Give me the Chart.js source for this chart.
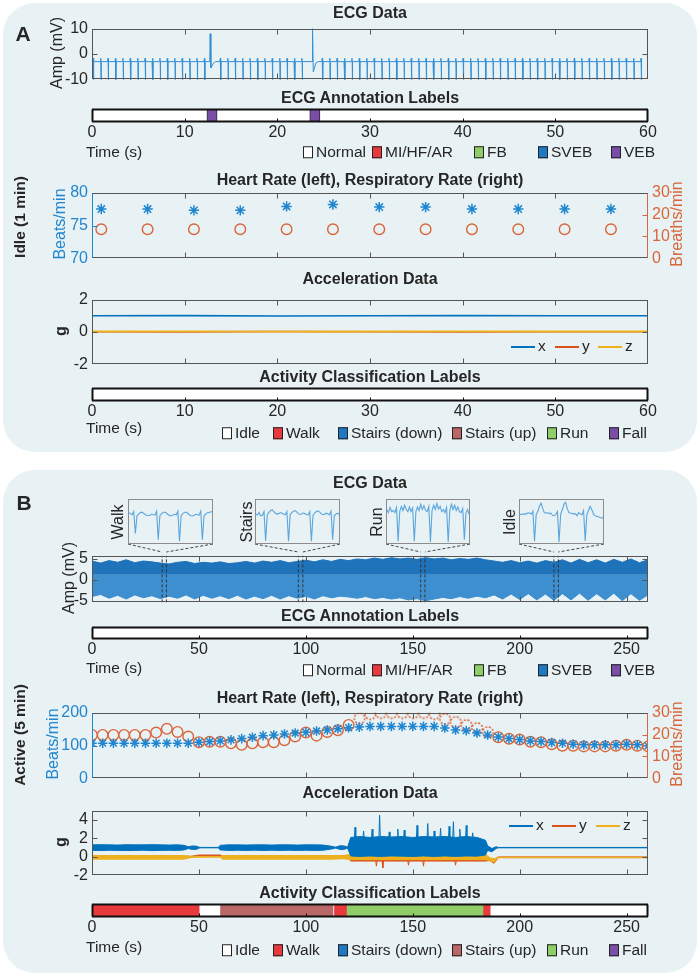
<!DOCTYPE html>
<html>
<head>
<meta charset="utf-8">
<script src="https://cdn.jsdelivr.net/npm/chart.js@4.4.1/dist/chart.umd.min.js"></script>
<style>
  html, body { margin: 0; padding: 0; background: #fff; }
  #fig { position: relative; width: 700px; height: 977px; overflow: hidden;
         font-family: "Liberation Sans", Arial, sans-serif; color: #262626; }
  .panel { position: absolute; background: #e8f1f4; border-radius: 32px; }
  .t { position: absolute; white-space: nowrap; line-height: 1; transform: translate(-50%, -50%); }
  .lg { position: absolute; white-space: nowrap; font-size: 15.5px; line-height: 1; transform: translateY(-50%); }
  .sw { display: inline-block; width: 8px; height: 10px; border: 1.5px solid #222; vertical-align: -1px; margin-right: 3px; }
  canvas, svg { position: absolute; }
</style>
</head>
<body>
<div id="fig">
  <div class="panel" style="left:3px;top:3px;width:694px;height:449px"></div>
  <div class="panel" style="left:3px;top:470px;width:694px;height:503px"></div>
</div>
<script>
// ---------- data ----------

// A: idle minute
const timeTicksA = [0, 10, 20, 30, 40, 50, 60];
const ecgABeats = [0.18, 0.98, 1.78, 2.58, 3.38, 4.18, 4.98, 5.78, 6.58, 7.38, 8.18, 8.98, 9.78, 10.58, 11.38, 12.18,
  13.9, 14.7, 15.5, 16.3, 17.1, 17.9, 18.7, 19.5, 20.3, 21.1, 21.9, 22.7,
  24.9, 25.7, 26.5, 27.3, 28.1, 28.9, 29.7, 30.5, 31.3, 32.1, 32.9, 33.7, 34.5, 35.3, 36.1, 36.9, 37.7, 38.5,
  39.3, 40.1, 40.9, 41.7, 42.5, 43.3, 44.1, 44.9, 45.7, 46.5, 47.3, 48.1, 48.9, 49.7, 50.5, 51.3, 52.1, 52.9,
  53.7, 54.5, 55.3, 56.1, 56.9, 57.7, 58.5, 59.3];
const beatShape = [[-0.1, -3], [-0.05, -1.7], [-0.02, -3], [0, -12], [0.03, -3]];
const ecgAVebTimes = [12.75, 23.8];
const ecgAVebPeak = [8, 10];
const ecgAVebTrough = [-5.5, -7];
const ecgAYTicks = [-10, 0, 10];
const annotA = [['VEB', 12.4, 13.5], ['VEB', 23.5, 24.6]];
const hrTimesA = [1, 6, 11, 16, 21, 26, 31, 36, 41, 46, 51, 56];
const hrA = [77.5, 77.5, 77.3, 77.3, 77.9, 78.2, 77.8, 77.8, 77.5, 77.5, 77.5, 77.5];
const rrA = [13.3, 13.3, 13.3, 13.3, 13.3, 13.3, 13.3, 13.3, 13.3, 13.3, 13.3, 13.3];
const hrAYTicks = [70, 75, 80];
const rrYTicks = [0, 10, 20, 30];
const accATimes = [0, 10, 20, 30, 40, 50, 60];
const accAX = [1.0, 1.01, 0.99, 1.0, 1.01, 1.0, 1.0];
const accAY = [0.02, 0.01, 0.03, 0.02, 0.01, 0.02, 0.02];
const accAZ = [0.03, 0.04, 0.02, 0.03, 0.04, 0.03, 0.03];
const accAYTicks = [-2, 0, 2];
const activityA = [];

// B: active five minutes
const timeTicksB = [0, 50, 100, 150, 200, 250];
// [time, lower edge, upper edge] of the dense ECG trace
const ecgBBand = [[0, -4.0, 4.5], [4, -3.5, 4.0], [8, -4.4, 4.6], [12, -3.7, 4.2], [16, -4.6, 4.8], [20, -3.6, 4.1],
  [24, -4.3, 4.5], [28, -3.8, 4.3], [32, -4.5, 4.0], [36, -3.9, 3.8], [40, -4.4, 4.2], [44, -3.6, 4.4],
  [48, -4.6, 3.9], [52, -3.7, 4.2], [56, -4.4, 4.0], [60, -3.8, 4.3], [64, -4.5, 3.9], [68, -3.7, 4.1],
  [72, -4.6, 4.4], [76, -3.9, 4.0], [80, -4.5, 4.5], [84, -3.7, 4.2], [88, -4.6, 4.6], [92, -3.8, 4.1],
  [96, -4.4, 4.4], [100, -3.9, 4.7], [104, -4.6, 4.3], [108, -3.8, 4.8], [112, -4.3, 4.4], [116, -3.9, 4.9],
  [120, -4.1, 4.6], [124, -4.4, 5.0], [128, -4.0, 4.8], [132, -4.5, 5.2], [136, -4.2, 4.9], [140, -4.6, 5.3],
  [144, -4.3, 5.0], [148, -4.8, 5.2], [152, -4.5, 4.9], [156, -5.0, 5.3], [160, -4.6, 5.0], [164, -4.2, 5.2],
  [168, -4.5, 4.8], [172, -4.0, 5.1], [176, -4.4, 4.9], [180, -3.9, 5.2], [184, -4.3, 4.8], [188, -3.6, 4.5],
  [192, -4.6, 4.2], [196, -3.4, 4.6], [200, -4.7, 4.1], [204, -3.3, 4.5], [208, -4.8, 4.0], [212, -3.4, 4.6],
  [216, -4.9, 4.2], [220, -3.3, 4.8], [224, -4.8, 4.0], [228, -3.2, 4.9], [232, -4.9, 4.1], [236, -3.3, 4.8],
  [240, -4.8, 4.0], [244, -3.2, 4.9], [248, -5.0, 4.2], [252, -3.3, 5.0], [256, -4.9, 4.1], [260, -3.6, 4.8]];
const ecgBYTicks = [-5, 0, 5];
const insetNames = ['Walk', 'Stairs', 'Run', 'Idle'];
const insetWindows = [[32.8, 34.8], [96.5, 98.6], [153.7, 155.7], [216, 218.1]];
const insetWalk = [0.45, 0.4, 0.35, 0.5, -0.55, 0.3, 0.38, 0.45, 0.47, 0.42, 0.36, 0.32, 0.3, 0.32, 0.38, 0.35, 0.33,
  0.52, -0.85, 0.3, 0.4, 0.46, 0.48, 0.43, 0.36, 0.3, 0.3, 0.33, 0.38, 0.34, 0.52, -0.92, 0.3, 0.4, 0.46, 0.48,
  0.42, 0.35, 0.3, 0.29, 0.32, 0.37, 0.35, 0.33, 0.52, -0.85, 0.3, 0.38, 0.44, 0.45, 0.48, 0.5];
const insetStairs = [0.38, 0.33, 0.45, 0.3, 0.32, 0.5, -0.9, 0.35, 0.45, 0.55, 0.58, 0.5, 0.42, 0.38, 0.4, 0.45, 0.42,
  0.38, 0.35, 0.5, -0.92, 0.35, 0.45, 0.52, 0.55, 0.48, 0.4, 0.36, 0.38, 0.44, 0.4, 0.36, 0.34, 0.5, -0.92, 0.33,
  0.43, 0.5, 0.53, 0.47, 0.4, 0.35, 0.37, 0.42, 0.38, 0.35, 0.52, -0.85, 0.3, 0.38, 0.42, 0.35];
const insetRun = [0.6, 0.45, 0.7, 0.5, 0.55, 0.45, 0.7, -0.92, 0.5, 0.75, 0.55, 0.8, 0.6, 0.5, 0.72, 0.5, 0.68, -0.92,
  0.5, 0.72, 0.55, 0.85, 0.6, 0.78, 0.55, 0.5, 0.75, -0.95, 0.55, 0.8, 0.6, 0.88, 0.62, 0.75, 0.5, 0.6, 0.45, 0.7,
  -0.95, 0.55, 0.85, 0.6, 0.8, 0.55, 0.72, 0.5, 0.45, 0.65, -0.85, 0.45, 0.6, 0.35];
const insetIdle = [0.35, 0.38, 0.36, 0.4, 0.38, 0.45, 0.42, 0.38, 0.52, -0.92, 0.35, 0.5, 0.75, 0.9, 0.65, 0.45, 0.42,
  0.45, 0.4, 0.42, 0.32, 0.3, 0.35, 0.5, -0.95, 0.38, 0.6, 0.85, 0.95, 0.65, 0.45, 0.42, 0.42, 0.38, 0.4, 0.3, 0.45,
  0.38, 0.35, 0.55, -0.9, 0.35, 0.55, 0.75, 0.6, 0.4, 0.3, 0.28, 0.25, 0.22, 0.2, 0.2];
const annotB = [];
const hrTimesB = [0, 5, 10, 15, 20, 25, 30, 35, 40, 45, 50, 55, 60, 65, 70, 75, 80, 85, 90, 95, 100, 105, 110, 115,
  120, 125, 130, 135, 140, 145, 150, 155, 160, 165, 170, 175, 180, 185, 190, 195, 200, 205, 210, 215, 220, 225,
  230, 235, 240, 245, 250, 255, 260];
const hrB = [107, 107, 107, 107, 107, 107, 107, 107, 107, 107, 110, 112, 114, 117, 121, 125, 130, 132, 135, 138,
  140, 144, 147, 151, 154, 156, 158, 158, 158, 158, 158, 158, 158, 153, 147, 145, 138, 132, 126, 121,
  118, 114, 112, 109, 107, 104, 102, 102, 102, 102, 104, 102, 99];
const rrB = [19.8, 19.8, 19.8, 19.8, 19.8, 19.8, 20.9, 22.6, 21.2, 19.1, 16.5, 16.7, 16.7, 16.0, 15.3, 16.0, 16.5,
  16.5, 17.4, 19.1, 20.9, 19.5, 21.2, 22.0, 24.4, 27.5, 29.5, 30, 30, 30, 30, 30, 29.5, 27.2, 25.8, 24.4, 23.0,
  21.2, 18.8, 18.1, 17.7, 16.7, 16.5, 15.6, 14.9, 14.9, 14.6, 14.6, 14.6, 14.9, 15.3, 14.9, 14.6];
const rrBUncertain = [125, 185];
const hrBYTicks = [0, 100, 200];
// [time, lower, upper] bands of the accelerometer axes
const accXBand = [[0, 0.7, 1.3], [4, 0.68, 1.32], [8, 0.72, 1.3], [12, 0.7, 1.28], [16, 0.68, 1.32], [20, 0.7, 1.3],
  [24, 0.72, 1.3], [28, 0.68, 1.32], [32, 0.7, 1.3], [36, 0.72, 1.28], [40, 0.7, 1.3], [43, 0.75, 1.25],
  [45, 0.9, 1.1], [47, 0.8, 1.18], [49, 0.82, 1.15], [50, 0.95, 1.05], [51, 0.98, 1.02], [59, 0.98, 1.02],
  [60, 0.75, 1.25], [64, 0.7, 1.3], [68, 0.72, 1.3], [72, 0.7, 1.28], [76, 0.72, 1.3], [80, 0.7, 1.3],
  [84, 0.72, 1.28], [88, 0.7, 1.3], [92, 0.72, 1.3], [96, 0.7, 1.28], [100, 0.72, 1.3], [104, 0.7, 1.3],
  [108, 0.72, 1.28], [112, 0.85, 1.15], [114, 0.95, 1.05], [116, 0.8, 1.2], [118, 0.82, 1.18], [119.5, 0.95, 1.05],
  [121, 0.1, 2.1], [125, 0.05, 2.2], [130, 0.1, 2.1], [135, 0.05, 2.2], [140, 0.1, 2.15], [145, 0.08, 2.2],
  [150, 0.05, 2.1], [155, 0.1, 2.2], [160, 0.05, 2.15], [165, 0.1, 2.2], [170, 0.05, 2.1], [175, 0.1, 2.2],
  [180, 0.08, 2.1], [184, 0.2, 1.8], [185, 0.7, 1.2], [187, 0.55, 0.9], [189, 0.9, 1.1], [190, 0.98, 1.02],
  [260, 0.98, 1.02]];
const accXSpikes = [[123, 3.2], [127, 2.8], [131, 3.0], [134.5, 4.5], [139, 2.7], [143, 3.0], [146, 2.9], [152, 3.4],
  [157, 3.6], [160, 2.8], [163, 3.1], [167, 3.3], [169, 3.8], [172, 3.0], [175, 3.4], [178, 2.6]];
const accYBand = [[0, -0.15, 0.1], [43, -0.15, 0.1], [46, -0.05, 0.05], [50, 0.12, 0.2], [60, 0.12, 0.2],
  [61, -0.15, 0.1], [112, -0.15, 0.1], [120, -0.15, 0.15], [121, -0.45, 0.25], [184, -0.45, 0.25], [186, -0.4, -0.15],
  [188, -0.7, -0.3], [190, -0.08, 0.0], [260, -0.08, 0.0]];
const accYSpikes = [[133, -1.0], [136, -1.2], [148, -0.9], [155, -1.0], [170, -0.9]];
const accZBand = [[0, -0.25, 0.15], [43, -0.25, 0.15], [46, -0.08, 0.08], [50, -0.04, 0.04], [60, -0.04, 0.04],
  [61, -0.25, 0.15], [112, -0.25, 0.15], [118, -0.2, 0.15], [121, -0.3, 0.3], [184, -0.3, 0.3], [186, -0.4, -0.1],
  [188, -0.6, -0.2], [190, -0.08, -0.03], [260, -0.08, -0.03]];
const accBYTicks = [-2, 0, 2, 4];
const activityB = [['Walk', 0, 50.1], ['Stairs (up)', 60.1, 112.7], ['Walk', 113.4, 119.2], ['Run', 119.3, 183.1], ['Walk', 183.1, 186.2]];

const ecgClasses = ['Normal', 'MI/HF/AR', 'FB', 'SVEB', 'VEB'];
const activityClasses = ['Idle', 'Walk', 'Stairs (down)', 'Stairs (up)', 'Run', 'Fall'];

// ---------- style / layout ----------
const FONT = '"Liberation Sans", Arial, sans-serif';
const TXT = '#262626';
const COL = { ecg: '#3590d4', x: '#0072BD', y: '#D95319', z: '#EDB120', hr: '#1f86cf', rr: '#d9663a', inset: '#5aa6de' };
const classColors = { 'Normal': '#ffffff', 'MI/HF/AR': '#e8393d', 'FB': '#8fcd68', 'SVEB': '#1f78c4', 'VEB': '#7a4ea6',
  'Idle': '#ffffff', 'Walk': '#e8393d', 'Stairs (down)': '#1f78c4', 'Stairs (up)': '#b96767', 'Run': '#8fcd68', 'Fall': '#7a4ea6' };
const PL = 92, PR = 648, ML = 58, MR = 36, MT = 10;
const fig = document.getElementById('fig');

// MATLAB-like box with inward tick marks
const matAxes = {
  id: 'matAxes',
  afterDatasetsDraw(chart, args, o) {
    const a = chart.chartArea, ctx = chart.ctx;
    const L = Math.round(a.left) + 0.5, R = Math.round(a.right) - 0.5;
    const T = Math.round(a.top) + 0.5, B = Math.round(a.bottom) - 0.5;
    const tl = o.tick || 5, col = o.color || '#555';
    ctx.save();
    const line = (x1, y1, x2, y2, c, w) => {
      ctx.strokeStyle = c; ctx.lineWidth = w || 1;
      ctx.beginPath(); ctx.moveTo(x1, y1); ctx.lineTo(x2, y2); ctx.stroke();
    };
    const xs = chart.scales.x;
    if (o.xTicks) xs.ticks.forEach((t, i) => {
      const p = Math.round(xs.getPixelForTick(i)) + 0.5;
      if (p <= L + 1 || p >= R - 1) return;
      line(p, B, p, B - tl, col);
      if (o.xTicks === 'both') line(p, T, p, T + tl, col);
    });
    const yMarks = (s, x, dir, c) => s.ticks.forEach((t, i) => {
      const p = Math.round(s.getPixelForTick(i)) + 0.5;
      if (p <= T + 1 || p >= B - 1) return;
      line(x, p, x + dir * tl, p, c);
    });
    if (o.yTicks === 'both') { yMarks(chart.scales.y, L, 1, col); yMarks(chart.scales.y, R, -1, col); }
    if (o.yTicks === 'split') { yMarks(chart.scales.y, L, 1, o.leftColor); yMarks(chart.scales.y1, R, -1, o.rightColor); }
    const w = o.width || 1;
    line(L - 0.5, T, R + 0.5, T, col, w); line(L - 0.5, B, R + 0.5, B, col, w);
    line(L, T, L, B, o.leftColor || col, w); line(R, T, R, B, o.rightColor || col, w);
    ctx.restore();
  }
};

function makeCanvas(left, top, w, h) {
  const c = document.createElement('canvas');
  c.width = w; c.height = h;
  c.style.left = left + 'px'; c.style.top = top + 'px';
  c.style.width = w + 'px'; c.style.height = h + 'px';
  fig.appendChild(c);
  return c;
}

function xAxis(max, ticks, mb, show) {
  return {
    type: 'linear', min: 0, max,
    afterBuildTicks: s => { s.ticks = ticks.map(v => ({ value: v })); },
    afterFit: s => { s.height = mb; },
    grid: { display: false, drawTicks: false }, border: { display: false },
    ticks: { display: show, autoSkip: false, maxRotation: 0, padding: 1, color: TXT, font: { family: FONT, size: 16 } }
  };
}

function yAxis(min, max, ticks, color, position, width) {
  return {
    type: 'linear', position, min, max,
    afterBuildTicks: s => { s.ticks = ticks.map(v => ({ value: v })); },
    afterFit: s => { s.width = width; },
    grid: { display: false, drawTicks: false }, border: { display: false },
    ticks: { autoSkip: false, padding: 4, color, font: { family: FONT, size: 16 } }
  };
}

// a line/scatter plot whose plot area spans PL..PR horizontally and top..bottom vertically
function linePlot(top, bottom, datasets, scales, axOpts) {
  const mb = 12;
  const cv = makeCanvas(PL - ML, top - MT, PR - PL + ML + MR, bottom - top + MT + mb);
  scales.x.afterFit = s => { s.height = mb; };
  return new Chart(cv, {
    type: 'line',
    data: { datasets },
    options: {
      responsive: false, animation: false, devicePixelRatio: 1, events: [],
      layout: { padding: { top: MT, bottom: 0, left: 0, right: scales.y1 ? 0 : MR } },
      scales,
      elements: { line: { tension: 0 }, point: { radius: 0 } },
      plugins: { legend: { display: false }, tooltip: { enabled: false }, matAxes: axOpts,
                 filler: { drawTime: 'beforeDatasetDraw', propagate: false } }
    },
    plugins: [matAxes]
  });
}

// class label strip drawn as floating horizontal bars
function labelBar(top, bottom, segs, max, ticks, defaultClass) {
  const mb = 22;
  const cv = makeCanvas(PL - ML, top - 4, PR - PL + ML + MR, bottom - top + 4 + mb);
  const datasets = [{ data: [[0, max]], backgroundColor: classColors[defaultClass], borderWidth: 0 }]
    .concat(segs.map(s => ({
      data: [[s[1], s[2]]], backgroundColor: classColors[s[0]],
      borderColor: '#2a2a2a', borderWidth: s[0] === 'VEB' ? 1 : 0
    })));
  return new Chart(cv, {
    type: 'bar',
    data: { labels: [''], datasets: datasets.reverse() },
    options: {
      indexAxis: 'y', responsive: false, animation: false, devicePixelRatio: 1, events: [],
      layout: { padding: { top: 4, bottom: 0, left: ML, right: MR } },
      datasets: { bar: { grouped: false, barPercentage: 1, categoryPercentage: 1, borderSkipped: false } },
      scales: { x: xAxis(max, ticks, mb, true), y: { type: 'category', display: false } },
      plugins: { legend: { display: false }, tooltip: { enabled: false },
                 matAxes: { xTicks: 'bottom', tick: 3, color: '#111', width: 2 } }
    },
    plugins: [matAxes]
  });
}

function txt(s, x, y, o) {
  o = o || {};
  const d = document.createElement('div');
  d.className = 't'; d.textContent = s;
  d.style.left = x + 'px'; d.style.top = y + 'px';
  d.style.fontSize = (o.size || 16) + 'px';
  if (o.bold) d.style.fontWeight = 'bold';
  if (o.color) d.style.color = o.color;
  if (o.rot) d.style.transform = 'translate(-50%,-50%) rotate(-90deg)';
  fig.appendChild(d);
}

function legend(names, xs, y) {
  names.forEach((n, i) => {
    const d = document.createElement('div');
    d.className = 'lg';
    d.style.left = xs[i] + 'px'; d.style.top = y + 'px';
    d.innerHTML = '<span class="sw" style="background:' + classColors[n] + '"></span>' + n;
    fig.appendChild(d);
  });
}

function accLegend(xs, y) {
  ['x', 'y', 'z'].forEach((k, i) => {
    const l = document.createElement('div');
    l.style.cssText = 'position:absolute;height:2px;width:24px;left:' + xs[i] + 'px;top:' + (y - 1) + 'px;background:' + COL[k];
    fig.appendChild(l);
    const d = document.createElement('div');
    d.className = 'lg'; d.textContent = k;
    d.style.left = (xs[i] + 27) + 'px'; d.style.top = (y - 1) + 'px';
    fig.appendChild(d);
  });
}

const pts = (xs, ys) => ys.map((v, i) => ({ x: xs[i], y: v }));
const bandEdge = (band, k) => band.map(r => ({ x: r[0], y: r[k] }));
const spikeLine = (spikes, base) => {
  const out = [];
  spikes.forEach(([t, p]) => { out.push({ x: t - 0.35, y: base }, { x: t, y: p }, { x: t + 0.35, y: base }, { x: t + 0.4, y: null }); });
  return out;
};

function dottedCircle(r, color) {
  const c = document.createElement('canvas');
  const s = 2 * r + 4; c.width = s; c.height = s;
  const g = c.getContext('2d');
  g.strokeStyle = color; g.lineWidth = 1.5; g.setLineDash([2, 1.6]);
  g.beginPath(); g.arc(s / 2, s / 2, r, 0, Math.PI * 2); g.stroke();
  return c;
}

// ---------- panel A ----------
const ecgAPts = [];
const events = ecgABeats.map(t => ({ t, shape: beatShape }))
  .concat(ecgAVebTimes.map((t, i) => ({ t, shape: [[-0.04, -3], [0, ecgAVebPeak[i]], [0.08, ecgAVebTrough[i]], [0.35, -3.6], [0.6, -3]] })))
  .sort((a, b) => a.t - b.t);
events.forEach(e => e.shape.forEach(([dt, v]) => ecgAPts.push({ x: e.t + dt, y: v })));

linePlot(25, 81,
  [{ data: ecgAPts, borderColor: COL.ecg, borderWidth: 1 }],
  { x: xAxis(60, timeTicksA, 12, false), y: yAxis(-10, 10, ecgAYTicks, TXT, 'left', ML) },
  { xTicks: 'both', yTicks: 'both' });

labelBar(109, 122, annotA, 60, timeTicksA, 'Normal');

linePlot(189, 260,
  [{ data: pts(hrTimesA, hrA), showLine: false, pointStyle: 'star', pointRadius: 5.2, borderColor: COL.hr, borderWidth: 1.5, yAxisID: 'y' },
   { data: pts(hrTimesA, rrA), showLine: false, pointStyle: 'circle', pointRadius: 5.3, borderColor: COL.rr, backgroundColor: 'rgba(0,0,0,0)', borderWidth: 1.4, yAxisID: 'y1' }],
  { x: xAxis(60, timeTicksA, 12, false), y: yAxis(70, 80, hrAYTicks, COL.hr, 'left', ML), y1: yAxis(0, 30, rrYTicks, COL.rr, 'right', MR) },
  { xTicks: 'both', yTicks: 'split', leftColor: COL.hr, rightColor: COL.rr });

linePlot(296, 366,
  [{ data: pts(accATimes, accAX), borderColor: COL.x, borderWidth: 1.6 },
   { data: pts(accATimes, accAZ), borderColor: COL.z, borderWidth: 1.8 },
   { data: pts(accATimes, accAY), borderColor: COL.y, borderWidth: 1.6 }],
  { x: xAxis(60, timeTicksA, 12, false), y: yAxis(-2, 2, accAYTicks, TXT, 'left', ML) },
  { xTicks: 'both', yTicks: 'both' });

labelBar(388, 401, activityA, 60, timeTicksA, 'Idle');

// ---------- panel B ----------
const ecgBMin = -5.4, ecgBMax = 5.8;
const windowLines = [];
insetWindows.forEach(w => w.forEach(t => windowLines.push({
  data: [{ x: t, y: ecgBMin }, { x: t, y: ecgBMax }], borderColor: '#333', borderWidth: 1, borderDash: [3, 2]
})));
const b1Top = 552, b1Bottom = 604;
const ecgB = linePlot(b1Top, b1Bottom,
  windowLines.concat([
    { data: bandEdge(ecgBBand, 2), borderColor: '#1e73bb', borderWidth: 1, fill: { value: 1.2 }, backgroundColor: '#1e73bb' },
    { data: bandEdge(ecgBBand, 1), borderColor: '#3d8fd0', borderWidth: 1, fill: { value: 1.2 }, backgroundColor: '#3d8fd0' }
  ]),
  { x: xAxis(260, timeTicksB, 12, false), y: yAxis(ecgBMin, ecgBMax, ecgBYTicks, TXT, 'left', ML) },
  { xTicks: 'both', yTicks: 'both' });

labelBar(627, 639, annotB, 260, timeTicksB, 'Normal');

const rrSolid = rrB.map((v, i) => (hrTimesB[i] >= rrBUncertain[0] && hrTimesB[i] <= rrBUncertain[1]) ? null : v);
const rrDotted = rrB.map((v, i) => (hrTimesB[i] >= rrBUncertain[0] && hrTimesB[i] <= rrBUncertain[1]) ? v : null);
linePlot(709, 780,
  [{ data: pts(hrTimesB, hrB), showLine: false, pointStyle: 'star', pointRadius: 4.8, borderColor: COL.hr, borderWidth: 1.5, yAxisID: 'y' },
   { data: pts(hrTimesB, rrSolid), showLine: false, pointStyle: 'circle', pointRadius: 5.3, borderColor: COL.rr, backgroundColor: 'rgba(0,0,0,0)', borderWidth: 1.4, yAxisID: 'y1' },
   { data: pts(hrTimesB, rrDotted), showLine: false, pointStyle: dottedCircle(5.3, COL.rr), pointRadius: 5.3, yAxisID: 'y1' }],
  { x: xAxis(260, timeTicksB, 12, false), y: yAxis(0, 200, hrBYTicks, COL.hr, 'left', ML), y1: yAxis(0, 30, rrYTicks, COL.rr, 'right', MR) },
  { xTicks: 'both', yTicks: 'split', leftColor: COL.hr, rightColor: COL.rr });

linePlot(807, 877,
  [{ data: spikeLine(accXSpikes, 1.8), borderColor: COL.x, borderWidth: 1, spanGaps: false },
   { data: bandEdge(accXBand, 2), borderColor: COL.x, borderWidth: 1, fill: '+1', backgroundColor: COL.x },
   { data: bandEdge(accXBand, 1), borderColor: COL.x, borderWidth: 1 },
   { data: bandEdge(accZBand, 2), borderColor: COL.z, borderWidth: 1, fill: '+1', backgroundColor: COL.z },
   { data: bandEdge(accZBand, 1), borderColor: COL.z, borderWidth: 1 },
   { data: spikeLine(accYSpikes, -0.4), borderColor: COL.y, borderWidth: 1, spanGaps: false },
   { data: bandEdge(accYBand, 2), borderColor: COL.y, borderWidth: 1, fill: '+1', backgroundColor: COL.y },
   { data: bandEdge(accYBand, 1), borderColor: COL.y, borderWidth: 1 }],
  { x: xAxis(260, timeTicksB, 12, false), y: yAxis(-2, 5, accBYTicks, TXT, 'left', ML) },
  { xTicks: 'both', yTicks: 'both' });

labelBar(904, 917, activityB, 260, timeTicksB, 'Idle');

// insets with short ECG excerpts
const insetBoxes = [{ l: 128, t: 499, w: 85, h: 45 }, { l: 255, t: 499, w: 85, h: 45 },
                    { l: 386, t: 499, w: 84, h: 45 }, { l: 519, t: 499, w: 85, h: 45 }];
const insetData = [insetWalk, insetStairs, insetRun, insetIdle];
const svgNS = 'http://www.w3.org/2000/svg';
const svg = document.createElementNS(svgNS, 'svg');
svg.setAttribute('width', 700); svg.setAttribute('height', 977);
svg.style.left = '0px'; svg.style.top = '0px';
fig.appendChild(svg);
const sx = ecgB.scales.x, offX = PL - ML;
insetBoxes.forEach((b, i) => {
  const ys = insetData[i];
  const cv = makeCanvas(b.l, b.t, b.w, b.h);
  new Chart(cv, {
    type: 'line',
    data: { datasets: [{ data: ys.map((v, k) => ({ x: k, y: v })), borderColor: COL.inset, borderWidth: 1.1 }] },
    options: {
      responsive: false, animation: false, devicePixelRatio: 1, events: [],
      layout: { padding: 0 },
      elements: { point: { radius: 0 } },
      scales: { x: { type: 'linear', display: false, min: -0.5, max: ys.length - 0.5 },
                y: { type: 'linear', display: false, min: -1.05, max: 1.1 } },
      plugins: { legend: { display: false }, tooltip: { enabled: false }, matAxes: { color: '#8c8c8c' } }
    },
    plugins: [matAxes]
  });
  const w = insetWindows[i];
  [[b.l, w[0]], [b.l + b.w, w[1]]].forEach(([bx, t]) => {
    const ln = document.createElementNS(svgNS, 'line');
    ln.setAttribute('x1', bx); ln.setAttribute('y1', b.t + b.h);
    ln.setAttribute('x2', offX + sx.getPixelForValue(t)); ln.setAttribute('y2', b1Top);
    ln.setAttribute('stroke', '#444'); ln.setAttribute('stroke-width', 1); ln.setAttribute('stroke-dasharray', '3 2');
    svg.appendChild(ln);
  });
  txt(insetNames[i], [118, 247, 377, 510][i], 522, { size: 16, rot: true });
});

// ---------- text ----------
const CX = 370;
txt('A', 23, 33, { size: 21, bold: true });
txt('B', 24, 502, { size: 21, bold: true });
txt('ECG Data', CX, 13, { bold: true });
txt('ECG Annotation Labels', CX, 98, { bold: true });
txt('Heart Rate (left), Respiratory Rate (right)', CX, 180, { bold: true });
txt('Acceleration Data', CX, 279, { bold: true });
txt('Activity Classification Labels', CX, 377, { bold: true });
txt('ECG Data', CX, 483, { bold: true });
txt('ECG Annotation Labels', CX, 616, { bold: true });
txt('Heart Rate (left), Respiratory Rate (right)', CX, 698, { bold: true });
txt('Acceleration Data', CX, 793, { bold: true });
txt('Activity Classification Labels', CX, 893, { bold: true });

txt('Idle (1 min)', 20, 217, { size: 15.5, bold: true, rot: true });
txt('Active (5 min)', 20, 735, { size: 15.5, bold: true, rot: true });
txt('Amp (mV)', 57, 53, { rot: true });
txt('Beats/min', 60, 224, { rot: true, color: COL.hr });
txt('Breaths/min', 677, 224, { rot: true, color: COL.rr });
txt('g', 61, 331, { rot: true, bold: true });
txt('Amp (mV)', 69, 578, { rot: true });
txt('Beats/min', 53, 744, { rot: true, color: COL.hr });
txt('Breaths/min', 677, 744, { rot: true, color: COL.rr });
txt('g', 61, 842, { rot: true, bold: true });

[152, 428, 668, 947].forEach(y => {
  const d = document.createElement('div');
  d.className = 'lg'; d.textContent = 'Time (s)';
  d.style.left = '86px'; d.style.top = y + 'px';
  fig.appendChild(d);
});
legend(ecgClasses, [303, 372, 474, 538, 611], 152);
legend(activityClasses, [222, 273, 338, 452, 547, 609], 433);
legend(ecgClasses, [303, 372, 474, 538, 611], 670);
legend(activityClasses, [222, 273, 338, 452, 547, 609], 950);
accLegend([511, 555, 598], 347);
accLegend([509, 552, 596], 826);
</script>
</body>
</html>
